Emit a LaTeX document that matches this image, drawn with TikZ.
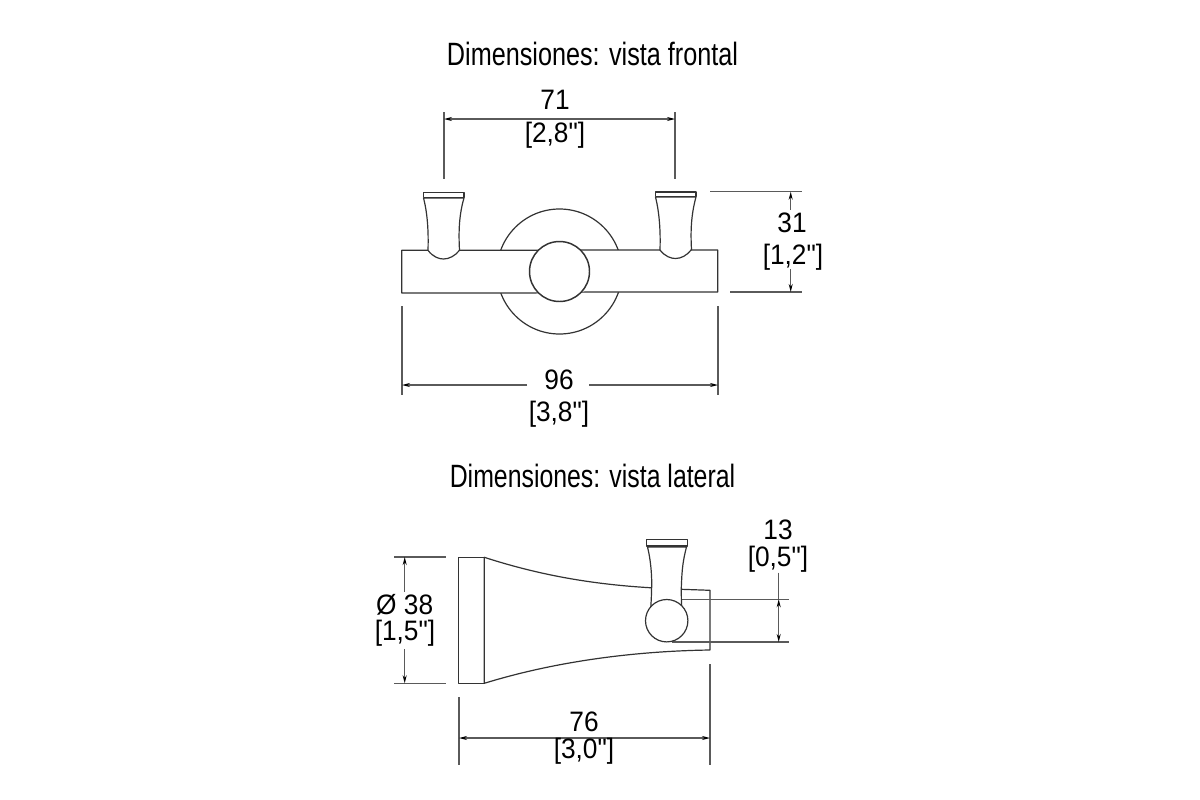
\documentclass[tikz,border=0pt]{standalone}
\usepackage{graphicx}
\usepackage{fontspec}
\newfontfamily\plainfont{Liberation Sans}
\usetikzlibrary{arrows.meta}
\definecolor{ink}{HTML}{333333}
\definecolor{rule}{HTML}{5A5A5A}
\tikzset{
  part/.style={draw=ink,line width=0.9pt,fill=white,line join=round},
  extline/.style={draw=rule,line width=0.9pt},
  dimline/.style={draw=rule,line width=0.85pt},
  dimarrow/.style={dimline,{Stealth[length=6pt,width=3pt,color=black]}-{Stealth[length=6pt,width=3pt,color=black]}},
  dimend/.style={dimline,-{Stealth[length=6pt,width=3pt,color=black]}},
  dimtext/.style={inner sep=0pt,text=black,font=\plainfont\fontsize{19.7}{22}\selectfont},
  titletext/.style={inner sep=0pt,text=black,font=\plainfont\fontsize{23.5}{26}\selectfont}
}
\newcommand{\narrowed}[2]{\scalebox{#1}[1.03]{#2}}
\newcommand{\tallish}[1]{\scalebox{1}[1.07]{#1}}
\begin{document}
\begin{tikzpicture}[x=0.75pt,y=-0.75pt]
\useasboundingbox (0,0) rectangle (1200,800);
\fill[white] (0,0) rectangle (1200,800);

% ---- titles
\node[titletext] (title1) at (592.5,54) {\narrowed{0.805}{Dimensiones: vista frontal}};
\node[titletext] (title2) at (592.5,476) {\narrowed{0.793}{Dimensiones: vista lateral}};

% ---- front view
\draw[part] (559.5,271.5) circle (62.5);
\draw[part] (401.7,250.3) -- (530,250.3) -- (590,250) -- (717.7,250) -- (717.7,292) -- (590,292) -- (530,293) -- (401.7,293) -- cycle;
\draw[part] (423.5,198) .. controls (428,215) and (428.5,235) .. (428,250.3)
  .. controls (433,257) and (439,259) .. (443.5,259) .. controls (449,259) and (455,256) .. (459.5,250.3)
  .. controls (458.5,232) and (459,215) .. (464,198) -- cycle;
\draw[part] (423.3,192.7) rectangle (464,197.5);
\draw[part] (655.5,197) .. controls (660,215) and (660.5,235) .. (660,250)
  .. controls (665,256.5) and (671,258.5) .. (675.5,258.5) .. controls (681,258.5) and (687,255.5) .. (691.5,249.5)
  .. controls (690.5,232) and (691,215) .. (696,197) -- cycle;
\draw[part] (655.3,192) rectangle (696,196.8);
\draw[part,line width=1.1pt] (559.5,271.5) circle (30);

% ---- side view
\draw[part] (458.7,557.3) rectangle (484.3,683.3);
\draw[part] (484.3,557.3) .. controls (545,577) and (600,585) .. (655,588)
  -- (681.3,589.3) -- (710,590.3) -- (710,650)
  .. controls (640,651) and (560,660) .. (484.3,683.3) -- cycle;
\coordinate (cTop) at (671.7,599.3);
\coordinate (cBot) at (671.7,642);
\coordinate (cTopR) at (789,599.3);
\coordinate (cBotR) at (789,642);
\draw[extline] (cTop) -- (cTopR);
\draw[extline] (cBot) -- (cBotR);
\draw[part] (647.5,547) .. controls (652,565) and (652,585) .. (651.5,590) .. controls (651.5,600) and (650.5,610) .. (650,618)
  -- (682,618) .. controls (681.5,605) and (681,590) .. (681.5,583) .. controls (682,570) and (683,560) .. (686.5,547) -- cycle;
\draw[part] (646.3,539.7) rectangle (687.3,546);
\draw[part] (666.7,620.7) circle (21.2);

% ---- 71
\coordinate (a1) at (444,112); \coordinate (a2) at (444,179);
\coordinate (b1) at (675,112); \coordinate (b2) at (675,179);
\coordinate (a3) at (444,119); \coordinate (b3) at (675,119);
\draw[extline] (a1) -- (a2);
\draw[extline] (b1) -- (b2);
\draw[dimarrow] (a3) -- (b3);
\node[dimtext] (t71) at (555,100) {\tallish{71}};
\node[dimtext] (t71b) at (555,135) {\tallish{[2,8"]}};

% ---- 31
\coordinate (c1) at (710,191.7); \coordinate (c2) at (802,191.7);
\coordinate (d1) at (730,292); \coordinate (d2) at (802,292);
\coordinate (e1) at (790.7,191.7); \coordinate (e2) at (790.7,292);
\coordinate (e3) at (790.7,210); \coordinate (e4) at (790.7,269);
\node[dimtext] (t31) at (792,223) {\tallish{31}};
\node[dimtext] (t31b) at (793,257) {\tallish{[1,2"]}};
\draw[extline] (c1) -- (c2);
\draw[extline] (d1) -- (d2);
\draw[dimend] (e3) -- (e1);
\draw[dimend] (e4) -- (e2);

% ---- 96
\coordinate (f1) at (402,306); \coordinate (f2) at (402,395);
\coordinate (g1) at (718,306); \coordinate (g2) at (718,395);
\coordinate (f3) at (402,385); \coordinate (g3) at (718,385);
\coordinate (f4) at (527,385); \coordinate (g4) at (589,385);
\node[dimtext] (t96) at (559,380) {\tallish{96}};
\node[dimtext] (t96b) at (559,414) {\tallish{[3,8"]}};
\draw[extline] (f1) -- (f2);
\draw[extline] (g1) -- (g2);
\draw[dimend] (f4) -- (f3);
\draw[dimend] (g4) -- (g3);

% ---- 13
\coordinate (h1) at (778.7,572.7);
\coordinate (h2) at (778.7,599.3);
\coordinate (h3) at (778.7,642);
\node[dimtext] (t13) at (778,530) {\tallish{13}};
\node[dimtext] (t13b) at (778,559) {\tallish{[0,5"]}};
\draw[dimline] (h1) -- (h2);
\draw[dimarrow] (h2) -- (h3);

% ---- 38
\coordinate (i1) at (394,557); \coordinate (i2) at (446,557);
\coordinate (j1) at (394,683.3); \coordinate (j2) at (446,683.3);
\coordinate (k1) at (404.7,557); \coordinate (k2) at (404.7,683.3);
\coordinate (k3) at (404.7,591.7); \coordinate (k4) at (404.7,649);
\node[dimtext] (t38) at (404.7,605) {\tallish{Ø 38}};
\node[dimtext] (t38b) at (405,633) {\tallish{[1,5"]}};
\draw[extline] (i1) -- (i2);
\draw[extline] (j1) -- (j2);
\draw[dimend] (k3) -- (k1);
\draw[dimend] (k4) -- (k2);

% ---- 76
\coordinate (m1) at (459,697); \coordinate (m2) at (459,765);
\coordinate (n1) at (710,664); \coordinate (n2) at (710,765);
\coordinate (m3) at (459,738); \coordinate (n3) at (710,738);
\draw[extline] (m1) -- (m2);
\draw[extline] (n1) -- (n2);
\draw[dimarrow] (m3) -- (n3);
\node[dimtext] (t76) at (584,722) {\tallish{76}};
\node[dimtext] (t76b) at (584,751) {\tallish{[3,0"]}};
\end{tikzpicture}
\end{document}
